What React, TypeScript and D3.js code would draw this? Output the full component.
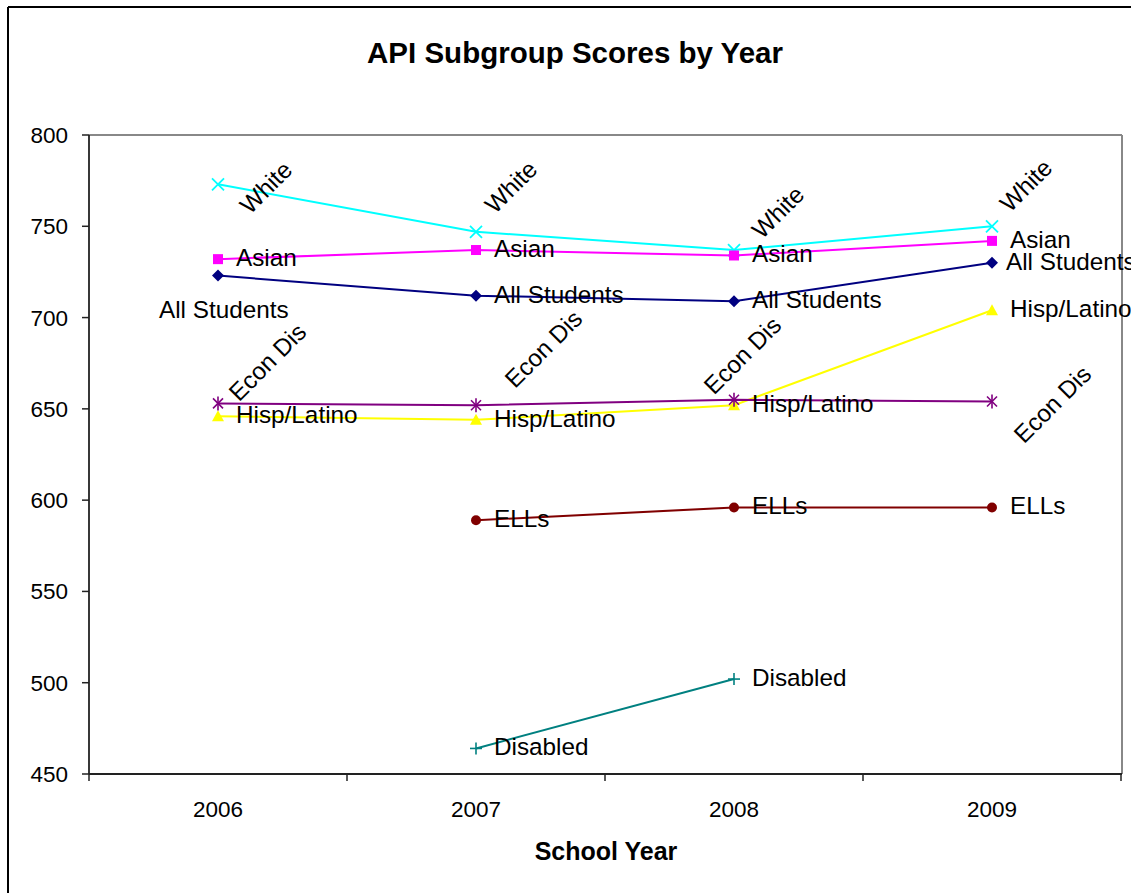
import React from "react";
import * as d3 from "d3";

const years = ["2006", "2007", "2008", "2009"];
const yTicks = [450, 500, 550, 600, 650, 700, 750, 800];

const white = [773, 747, 737, 750];
const asian = [732, 737, 734, 742];
const allStudents = [723, 712, 709, 730];
const hispLatino = [646, 644, 652, 704];
const econDis = [653, 652, 655, 654];
const ells = [null, 589, 596, 596];
const disabled = [null, 464, 502, null];

type Val = number | null;
type Lab = { dx: number; dy: number; rot: number };

const DEF: Lab = { dx: 18, dy: 7, rot: 0 };

const series: {
  name: string;
  values: Val[];
  color: string;
  marker: string;
  labels: (Lab | null)[];
}[] = [
  {
    name: "White", values: white, color: "#00FFFF", marker: "x",
    labels: [
      { dx: 32, dy: 31, rot: -45 },
      { dx: 19, dy: -17, rot: -45 },
      { dx: 28, dy: -10, rot: -45 },
      { dx: 18, dy: -13, rot: -45 },
    ],
  },
  { name: "Asian", values: asian, color: "#FF00FF", marker: "square", labels: [null, null, null, null] },
  {
    name: "All Students", values: allStudents, color: "#000080", marker: "diamond",
    labels: [{ dx: -59, dy: 42, rot: 0 }, null, null, { dx: 14, dy: 7, rot: 0 }],
  },
  { name: "Hisp/Latino", values: hispLatino, color: "#FFFF00", marker: "triangle", labels: [null, null, null, null] },
  {
    name: "Econ Dis", values: econDis, color: "#800080", marker: "asterisk",
    labels: [
      { dx: 21, dy: -1, rot: -45 },
      { dx: 39, dy: -16, rot: -45 },
      { dx: -20, dy: -4, rot: -45 },
      { dx: 32, dy: 43, rot: -45 },
    ],
  },
  { name: "ELLs", values: ells, color: "#800000", marker: "circle", labels: [null, null, null, null] },
  { name: "Disabled", values: disabled, color: "#008080", marker: "plus", labels: [null, null, null, null] },
];

const FONT = "'Liberation Sans', Arial, Helvetica, sans-serif";

function Marker({ type, color, cx, cy }: { type: string; color: string; cx: number; cy: number }) {
  switch (type) {
    case "x":
      return (
        <g stroke={color} strokeWidth={1.8}>
          <line x1={cx - 6} y1={cy - 6} x2={cx + 6} y2={cy + 6} />
          <line x1={cx - 6} y1={cy + 6} x2={cx + 6} y2={cy - 6} />
        </g>
      );
    case "square":
      return <rect x={cx - 5} y={cy - 5} width={10} height={10} fill={color} />;
    case "diamond":
      return <polygon points={`${cx},${cy - 6} ${cx + 6},${cy} ${cx},${cy + 6} ${cx - 6},${cy}`} fill={color} />;
    case "triangle":
      return <polygon points={`${cx},${cy - 6} ${cx + 6},${cy + 5} ${cx - 6},${cy + 5}`} fill={color} />;
    case "asterisk":
      return (
        <g stroke={color} strokeWidth={1.6}>
          <line x1={cx - 5} y1={cy - 5} x2={cx + 5} y2={cy + 5} />
          <line x1={cx - 5} y1={cy + 5} x2={cx + 5} y2={cy - 5} />
          <line x1={cx} y1={cy - 7} x2={cx} y2={cy + 7} />
        </g>
      );
    case "circle":
      return <circle cx={cx} cy={cy} r={5} fill={color} />;
    case "plus":
      return (
        <g stroke={color} strokeWidth={1.6}>
          <line x1={cx - 6} y1={cy} x2={cx + 6} y2={cy} />
          <line x1={cx} y1={cy - 6} x2={cx} y2={cy + 6} />
        </g>
      );
    default:
      return null;
  }
}

export default function App() {
  const W = 1131, H = 893;
  const left = 89, right = 1121, top = 135, bottom = 774;
  const x = d3.scaleBand<string>().domain(years).range([left, right]);
  const y = d3.scaleLinear().domain([450, 800]).range([bottom, top]);
  const cx = (i: number) => (x(years[i]) as number) + x.bandwidth() / 2;

  const lineGen = d3
    .line<Val>()
    .defined((d) => d != null)
    .x((_, i) => cx(i))
    .y((d) => y(d as number));

  const boundaries = [...years.map((yr) => x(yr) as number), right];

  return (
    <svg width={W} height={H} style={{ position: "absolute", left: 0, top: 0, background: "#fff" }} fontFamily={FONT}>
      <rect x={0} y={0} width={W} height={H} fill="#fff" />
      {/* outer chart border */}
      <line x1={8} y1={7} x2={W + 5} y2={7} stroke="#000" strokeWidth={2} />
      <line x1={8} y1={7} x2={8} y2={H + 5} stroke="#000" strokeWidth={2} />

      {/* title */}
      <text x={575} y={63} textAnchor="middle" fontSize={29.5} fontWeight="bold" fill="#000">
        API Subgroup Scores by Year
      </text>

      {/* plot area border (top/right) */}
      <line x1={left} y1={top} x2={right + 1} y2={top} stroke="#888" strokeWidth={2} />
      <line x1={right + 1} y1={top} x2={right + 1} y2={bottom} stroke="#888" strokeWidth={2} />

      {/* y axis */}
      <line x1={left} y1={top} x2={left} y2={bottom} stroke="#222" strokeWidth={1.8} />
      {yTicks.map((t) => (
        <g key={t}>
          <line x1={left - 7} y1={y(t)} x2={left} y2={y(t)} stroke="#222" strokeWidth={1.5} />
          <text x={68} y={y(t) + 8} textAnchor="end" fontSize={22.5} fill="#000">
            {t}
          </text>
        </g>
      ))}

      {/* x axis */}
      <line x1={left} y1={bottom} x2={right + 1} y2={bottom} stroke="#222" strokeWidth={1.8} />
      {boundaries.map((b, i) => (
        <line key={i} x1={b} y1={bottom} x2={b} y2={bottom + 7} stroke="#222" strokeWidth={1.5} />
      ))}
      {years.map((yr, i) => (
        <text key={yr} x={cx(i)} y={817} textAnchor="middle" fontSize={22.5} fill="#000">
          {yr}
        </text>
      ))}
      <text x={606} y={860} textAnchor="middle" fontSize={25} fontWeight="bold" fill="#000">
        School Year
      </text>

      {/* series */}
      {series.map((s) => (
        <g key={s.name}>
          <path d={lineGen(s.values) || ""} fill="none" stroke={s.color} strokeWidth={2} />
          {s.values.map((v, i) =>
            v == null ? null : <Marker key={i} type={s.marker} color={s.color} cx={cx(i)} cy={y(v)} />
          )}
        </g>
      ))}
      {/* labels */}
      {series.map((s) => (
        <g key={s.name + "-lab"}>
          {s.values.map((v, i) => {
            if (v == null) return null;
            const l = s.labels[i] || DEF;
            const px = cx(i) + l.dx;
            const py = y(v) + l.dy;
            return (
              <text
                key={i}
                x={0}
                y={0}
                transform={`translate(${px},${py}) rotate(${l.rot})`}
                fontSize={24.3}
                fill="#000"
              >
                {s.name}
              </text>
            );
          })}
        </g>
      ))}
    </svg>
  );
}
